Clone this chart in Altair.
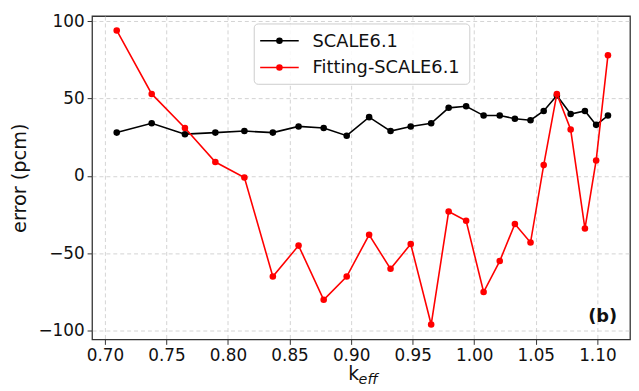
import altair as alt
import pandas as pd

# ---- data ----
keff = [0.7096, 0.738, 0.765, 0.7897, 0.8133, 0.8364, 0.8573, 0.8777, 0.8964, 0.9146,
        0.932, 0.9484, 0.965, 0.9792, 0.9934, 1.0076, 1.0207, 1.033, 1.0457, 1.0564,
        1.0671, 1.0783, 1.0899, 1.099, 1.1086]
scale61 = [28, 34, 27, 28, 29, 28, 32, 31, 26, 38, 29, 32, 34, 44, 45, 39, 39, 37, 36, 42,
           52, 40, 42, 33, 39]
fitting = [94, 53, 31, 9, -1, -65, -45, -80, -65, -38, -60, -44, -96, -23, -29, -75, -55,
           -31, -43, 7, 53, 30, -34, 10, 78]
series_names = ["SCALE6.1", "Fitting-SCALE6.1"]
series_colors = ["#000000", "#ff0000"]
x_ticks = [0.70, 0.75, 0.80, 0.85, 0.90, 0.95, 1.00, 1.05, 1.10]
y_ticks = [-100, -50, 0, 50, 100]

df = pd.DataFrame({
    "keff": keff * 2,
    "error": scale61 + fitting,
    "series": [series_names[0]] * len(keff) + [series_names[1]] * len(keff),
})

FONT = "DejaVu Sans"
W, H = 544, 327

xscale = alt.Scale(domain=[0.68956, 1.12651], nice=False, zero=False)
yscale = alt.Scale(domain=[-105.6, 103.3], nice=False, zero=False)
cscale = alt.Scale(domain=series_names, range=series_colors)

xaxis = alt.Axis(values=x_ticks, format=".2f", title=None, grid=True)
yaxis = alt.Axis(values=y_ticks, format="d", title="error (pcm)", grid=True,
                 titleFontSize=19.5, titleFontWeight="normal", titleFont=FONT,
                 titleX=-67, titleY=H / 2, titleAngle=270, titleAlign="center",
                 titleBaseline="alphabetic", titleColor="#111")

layers = []
for name in series_names:
    base = alt.Chart(df).transform_filter(alt.datum.series == name).encode(
        x=alt.X("keff:Q", scale=xscale, axis=xaxis),
        y=alt.Y("error:Q", scale=yscale, axis=yaxis),
        color=alt.Color("series:N", scale=cscale, legend=None),
    )
    layers.append(base.mark_line(strokeWidth=1.6))
    layers.append(base.mark_point(filled=True, size=44, opacity=1))

# ---- manual legend (line + dot) ----
one = pd.DataFrame({"a": [0]})
legend_box = alt.Chart(one).mark_rect(
    fill="white", fillOpacity=0.85, stroke="#cccccc", strokeWidth=1, cornerRadius=4
).encode(x=alt.value(164), x2=alt.value(382), y=alt.value(8), y2=alt.value(69))
layers.append(legend_box)
for i, (name, col) in enumerate(zip(series_names, series_colors)):
    yy = 25 + i * 27
    layers.append(alt.Chart(one).mark_rule(color=col, strokeWidth=1.6).encode(
        x=alt.value(170), x2=alt.value(209), y=alt.value(yy)))
    layers.append(alt.Chart(one).mark_point(filled=True, size=44, color=col, opacity=1).encode(
        x=alt.value(189.5), y=alt.value(yy)))
    layers.append(alt.Chart(one).mark_text(
        text=name, align="left", baseline="middle", font=FONT, fontSize=18, color="#111"
    ).encode(x=alt.value(223), y=alt.value(yy + 1)))

# ---- x-axis title k_eff and panel label ----
layers.append(alt.Chart(one).mark_text(
    text="k", align="right", baseline="alphabetic", font=FONT, fontSize=19, color="#111"
).encode(x=alt.value(270), y=alt.value(368)))
layers.append(alt.Chart(one).mark_text(
    text="eff", align="left", baseline="alphabetic", font=FONT, fontSize=14.5,
    fontStyle="italic", color="#111"
).encode(x=alt.value(269.5), y=alt.value(372)))
layers.append(alt.Chart(one).mark_text(
    text="(b)", align="right", baseline="alphabetic", font=FONT, fontSize=18,
    fontWeight="bold", color="#111"
).encode(x=alt.value(531), y=alt.value(309)))

chart = alt.layer(*layers).properties(
    width=W, height=H,
    autosize=alt.AutoSizeParams(type="none"),
    padding={"left": 85, "top": 6, "right": 1, "bottom": 48},
).configure_view(
    stroke="#333333", strokeWidth=1.3
).configure_axis(
    domain=False,
    gridColor="#c8c8c8", gridDash=[4, 3], gridWidth=0.8,
    tickColor="#333333", tickSize=5, tickWidth=1,
    labelFont=FONT, labelFontSize=17, labelColor="#111", labelPadding=3,
)

chart.save("out.html", embed_options={"renderer": "svg", "actions": False})
